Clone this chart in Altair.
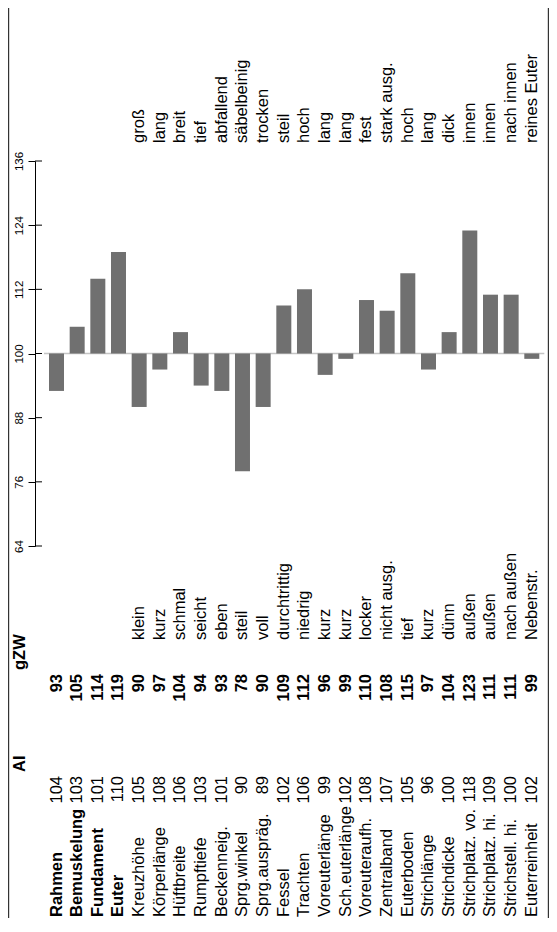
import altair as alt
import pandas as pd

names = ["Rahmen", "Bemuskelung", "Fundament", "Euter", "Kreuzhöhe", "Körperlänge",
         "Hüftbreite", "Rumpftiefe", "Beckenneig.", "Sprg.winkel", "Sprg.auspräg.",
         "Fessel", "Trachten", "Voreuterlänge", "Sch.euterlänge", "Voreuteraufh.",
         "Zentralband", "Euterboden", "Strichlänge", "Strichdicke", "Strichplatz. vo.",
         "Strichplatz. hi.", "Strichstell. hi.", "Euterreinheit"]
ai = [104, 103, 101, 110, 105, 108, 106, 103, 101, 90, 89, 102, 106, 99, 102, 108,
      107, 105, 96, 100, 118, 109, 100, 102]
gzw = [93, 105, 114, 119, 90, 97, 104, 94, 93, 78, 90, 109, 112, 96, 99, 110,
       108, 115, 97, 104, 123, 111, 111, 99]
low_labels = ["", "", "", "", "klein", "kurz", "schmal", "seicht", "eben", "steil", "voll",
              "durchtrittig", "niedrig", "kurz", "kurz", "locker", "nicht ausg.", "tief",
              "kurz", "dünn", "außen", "außen", "nach außen", "Nebenstr."]
high_labels = ["", "", "", "", "groß", "lang", "breit", "tief", "abfallend", "säbelbeinig",
               "trocken", "steil", "hoch", "lang", "lang", "fest", "stark ausg.", "hoch",
               "lang", "dick", "innen", "innen", "nach innen", "reines Euter"]
bold_rows = ["Rahmen", "Bemuskelung", "Fundament", "Euter"]
y_ticks = [64, 76, 88, 100, 112, 124, 136]
headers = ["AI", "gZW"]

df = pd.DataFrame({"idx": list(range(len(names))), "name": names, "ai": ai, "gzw": gzw,
                   "low": low_labels, "high": high_labels})
df["bold"] = df["name"].isin(bold_rows)
tick_df = pd.DataFrame({"t": y_ticks})
one = pd.DataFrame({"a": [0]})

W, H = 514, 910
FONT = "Liberation Sans"
FS = 16.5

xs = alt.Scale(domain=[0, 23], range=[16.5, 501.8])
ys = alt.Scale(domain=[64, 136], range=[538, 153], nice=False, zero=False)
X = alt.X("idx:Q", scale=xs, axis=None)
yaxis = alt.Axis(values=y_ticks, orient="left", domainColor="black", domainWidth=1,
                 tickColor="black", tickSize=7, tickWidth=1, labelAngle=270,
                 labelAlign="center", labelBaseline="alphabetic", labelPadding=6,
                 labelFontSize=11.5, labelFont=FONT, labelColor="black", title=None,
                 grid=False, labelFlush=False, labelOverlap=False)

base = alt.Chart(df)

bars = base.mark_bar(size=15, color="#707070").encode(
    x=X, y=alt.Y("gzw:Q", scale=ys, axis=yaxis), y2=alt.datum(100))

zero_line = alt.Chart(one).mark_rule(color="#c4c4c4", strokeWidth=1.5).encode(
    x=alt.value(9), x2=alt.value(509.3), y=alt.YDatum(100, scale=ys, axis=yaxis))

tick_right = alt.Chart(tick_df).mark_rule(color="black", strokeWidth=1).encode(
    x=alt.value(0), x2=alt.value(7), y=alt.Y("t:Q", scale=ys, axis=yaxis))

border_l = alt.Chart(one).mark_rule(color="#333333", strokeWidth=1.2).encode(
    x=alt.value(-26.4), y=alt.value(0), y2=alt.value(H))
border_r = alt.Chart(one).mark_rule(color="#333333", strokeWidth=1.2).encode(
    x=alt.value(513.4), y=alt.value(0), y2=alt.value(H))


def col_text(chart, field, ypos, align, bold=False):
    return chart.mark_text(angle=270, align=align, baseline="middle", fontSize=FS,
                           font=FONT, fontWeight="bold" if bold else "normal",
                           color="black").encode(x=X, y=alt.value(ypos),
                                                 text=alt.Text(f"{field}:N"))


names_bold = col_text(base.transform_filter("datum.bold"), "name", 909, "left", True)
names_norm = col_text(base.transform_filter("!datum.bold"), "name", 909, "left")
ai_text = col_text(base, "ai", 768, "right")
gzw_text = col_text(base, "gzw", 666, "right", True)
low_text = col_text(base, "low", 632, "left")
high_text = col_text(base, "high", 135, "left")


def header(label, ypos):
    return alt.Chart(pd.DataFrame({"h": [label]})).mark_text(
        angle=270, align="left", baseline="middle", fontSize=FS, font=FONT,
        fontWeight="bold", color="black").encode(x=alt.value(-15), y=alt.value(ypos),
                                                 text="h:N")


hdr_ai = header(headers[0], 764)
hdr_gzw = header(headers[1], 662)

chart = alt.layer(
    zero_line, bars, tick_right, border_l, border_r,
    names_bold, names_norm, ai_text, gzw_text, low_text, high_text, hdr_ai, hdr_gzw
).properties(
    width=W, height=H,
    padding={"left": 27, "top": 0, "right": 0, "bottom": 0},
    autosize=alt.AutoSizeParams(type="none"),
    background="white",
).configure_view(stroke=None)

chart.save("out.html", embed_options={"renderer": "svg", "actions": False})
